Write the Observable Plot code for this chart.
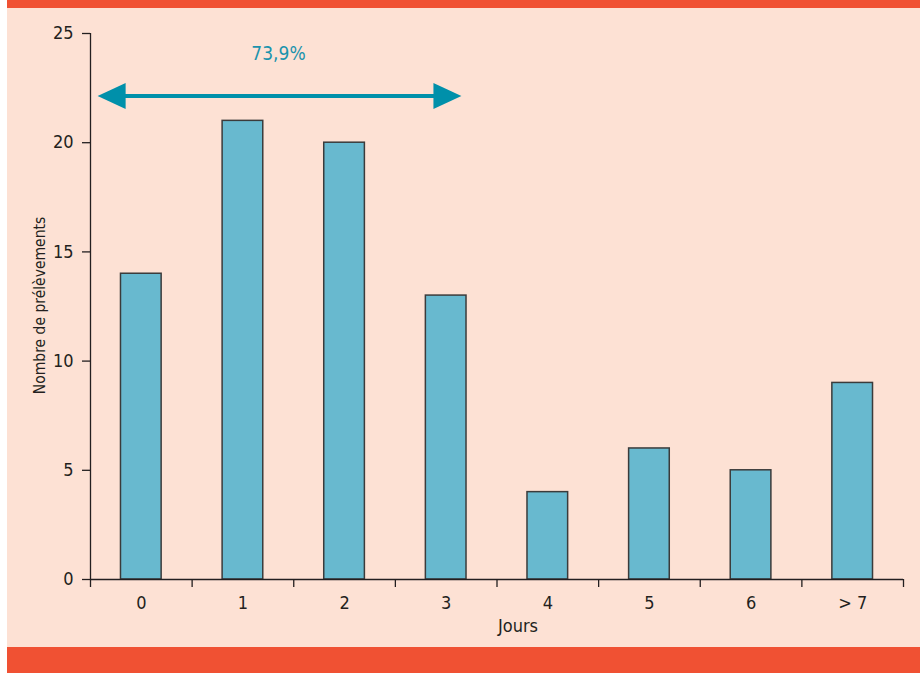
<!DOCTYPE html>
<html>
<head>
<meta charset="utf-8">
<script src="https://cdn.jsdelivr.net/npm/d3@7"></script>
<script src="https://cdn.jsdelivr.net/npm/@observablehq/plot@0.6"></script>
<style>
  html, body { margin: 0; padding: 0; background: #ffffff; }
  #panel {
    position: absolute; left: 7px; top: 0;
    width: 913px; height: 639px;
    background: #fde1d4;
    border-top: 8px solid #f05133;
    border-bottom: 26px solid #f05133;
  }
  #panel svg { display: block; }
</style>
</head>
<body>
<div id="panel"></div>
<script>
// Délai (jours) et nombre de prélèvements
const jours = ["0", "1", "2", "3", "4", "5", "6", "> 7"];
const prelevements = [14, 21, 20, 13, 4, 6, 5, 9];
const yTicks = [0, 5, 10, 15, 20, 25];

const rows = jours.map((jour, i) => ({ jour, i, n: prelevements[i] }));

// Part des prélèvements traités en 0 à 3 jours
const part = d3.sum(prelevements.slice(0, 4)) / d3.sum(prelevements);
const partLabel = (part * 100).toFixed(1).replace(".", ",") + "%";

// Annotation: double flèche au-dessus des jours 0 à 3
const arrowFrom = 0.07, arrowTo = 3.65, arrowLevel = 22.14;
const labelX = 1.85, labelLevel = 24.07;

const font = `"Liberation Sans Narrow", "Arial Narrow", "DejaVu Sans Condensed", sans-serif`;
const ink = "#231f20";
const teal = "#0090aa";

// Pointe de flèche pleine, sommet à l'origine, orientée vers la droite
const arrowHead = {
  draw(ctx, size) {
    const r = Math.sqrt(size / Math.PI);
    ctx.moveTo(0, 0);
    ctx.lineTo(-2.8 * r, -1.3 * r);
    ctx.lineTo(-2.8 * r, 1.3 * r);
    ctx.closePath();
  }
};

const chart = Plot.plot({
  width: 913,
  height: 639,
  marginLeft: 83,
  marginRight: 17,
  marginTop: 25,
  marginBottom: 68,
  style: { background: "transparent", fontFamily: font, fontSize: "18px", color: ink },
  x: { type: "linear", domain: [0, jours.length], axis: null },
  y: { domain: [0, 25], axis: null },
  marks: [
    Plot.rectY(rows, {
      x1: d => d.i + 0.3, x2: d => d.i + 0.7, y: "n",
      fill: "#68b9cf", stroke: "#3b3b3b", strokeWidth: 1.5
    }),
    // axes
    Plot.ruleX([0], { stroke: ink, strokeWidth: 1.3 }),
    Plot.ruleY([0], { stroke: ink, strokeWidth: 1.3 }),
    Plot.axisY({ ticks: yTicks, tickSize: 8, tickPadding: 9, label: null, strokeWidth: 1.3 }),
    Plot.axisX({ ticks: d3.range(jours.length + 1), tickSize: 8, tickFormat: () => "", label: null, strokeWidth: 1.3 }),
    Plot.axisX({
      ticks: jours.map((_, i) => i + 0.5), tickSize: 0, tickPadding: 17,
      tickFormat: v => jours[Math.floor(v)], label: null
    }),
    Plot.text(["Jours"], { frameAnchor: "bottom", dx: 21, dy: 52, fill: ink }),
    Plot.text(["Nombre de prélèvements"], {
      frameAnchor: "left", textAnchor: "middle", rotate: -90, dx: -50, dy: -1,
      fontSize: 15.5, fill: ink
    }),
    // annotation
    Plot.ruleY([arrowLevel], { x1: arrowFrom + 0.2, x2: arrowTo - 0.2, stroke: teal, strokeWidth: 4 }),
    Plot.dot([arrowFrom], { x: d => d, y: arrowLevel, symbol: arrowHead, r: 10, rotate: 180, fill: teal, stroke: "none" }),
    Plot.dot([arrowTo], { x: d => d, y: arrowLevel, symbol: arrowHead, r: 10, fill: teal, stroke: "none" }),
    Plot.text([partLabel], { x: labelX, y: labelLevel, fill: "#1b93ad", fontSize: 19 })
  ]
});

document.getElementById("panel").appendChild(chart);
</script>
</body>
</html>
